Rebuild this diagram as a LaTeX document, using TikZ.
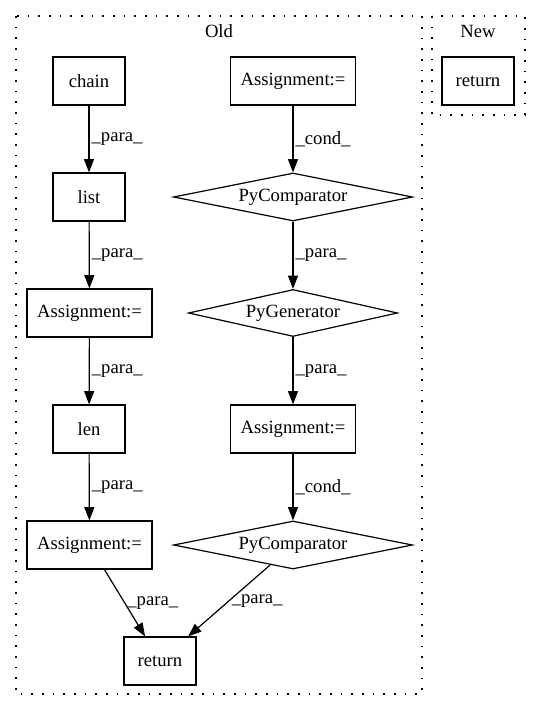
\documentclass[tikz,border=0pt]{standalone}
\usepackage{fontspec}
\setmainfont{Liberation Serif}
\usetikzlibrary{shapes.geometric,arrows.meta}
\begin{document}
\begin{tikzpicture}[x=0.75pt,y=-0.75pt,
  every node/.style={font=\fontsize{14pt}{16pt}\selectfont},
  box/.style={draw,line width=0.9pt,rectangle,minimum width=54pt,minimum height=36pt,inner sep=0pt},
  wbox/.style={box,minimum width=93.75pt},
  dia/.style={draw,line width=0.9pt,diamond,aspect=5,inner sep=0pt,minimum height=36pt},
  cluster/.style={draw,line width=1pt,dash pattern=on 1.2pt off 6.8pt},
  edge/.style={line width=0.9pt,-{Triangle[length=10pt,width=7.5pt]}},
  lab/.style={anchor=west,inner sep=1.5pt}]
\useasboundingbox (0,0) rectangle (541,712);
\draw[cluster] (16,16) rectangle (422,694);
\draw[cluster] (432,16) rectangle (525,115);
\node (oldlab) at (219,31) {Old};
\node (newlab) at (478,31) {New};
\node[box] (chain) at (89,81) {chain};
\node[box] (list) at (89,197) {list};
\node[wbox] (asgA) at (89.5,313) {Assignment:=};
\node[box] (len) at (89,429) {len};
\node[wbox] (asgB) at (89.5,545) {Assignment:=};
\node[box] (ret) at (160,661) {return};
\node[wbox] (asgT) at (293,81) {Assignment:=};
\node[dia,minimum width=179.25pt] (pcA) at (293,197) {PyComparator};
\node[dia,minimum width=156.75pt,minimum height=35.25pt] (pg) at (293,313) {PyGenerator};
\node[wbox] (asgM) at (293,429) {Assignment:=};
\node[dia,minimum width=179.25pt] (pcB) at (293,545) {PyComparator};
\node[box] (newret) at (478,81) {return};
\draw[edge] (chain) -- node[lab] {\_para\_} (list);
\draw[edge] (list) -- node[lab] {\_para\_} (asgA);
\draw[edge] (asgA) -- node[lab] {\_para\_} (len);
\draw[edge] (len) -- node[lab] {\_para\_} (asgB);
\draw[edge] (asgB) -- node[lab] {\_para\_} (ret);
\draw[edge] (asgT) -- node[lab] {\_cond\_} (pcA);
\draw[edge] (pcA) -- node[lab] {\_para\_} (pg);
\draw[edge] (pg) -- node[lab] {\_para\_} (asgM);
\draw[edge] (asgM) -- node[lab] {\_cond\_} (pcB);
\draw[edge] (pcB) -- node[lab] {\_para\_} (ret);
\end{tikzpicture}
\end{document}
